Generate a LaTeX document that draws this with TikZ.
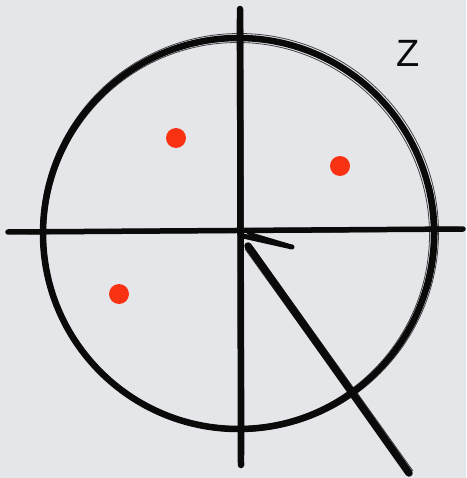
\documentclass[tikz,border=0pt]{standalone}
\usepackage{fontspec}
\setmainfont{Liberation Sans}
\usetikzlibrary{calc}
\definecolor{bg}{RGB}{228,230,234}
\definecolor{dotred}{RGB}{250,50,20}
\definecolor{ink}{RGB}{10,10,10}
\begin{document}
\begin{tikzpicture}[x=1pt,y=-1pt,
  brush/.style={draw=ink,line cap=round},
  hair/.style={draw=ink,line width=0.8pt,opacity=0.75},
  reddot/.style={circle,fill=dotred,minimum size=20pt,inner sep=0pt}]
\fill[bg] (0,0) rectangle (466,478);
\useasboundingbox (0,0) rectangle (466,478);
% named points
\coordinate (c) at (238.5,233.5);
\coordinate (vt) at (240,9);
\coordinate (vb) at (241,465);
\coordinate (hl) at (8,232);
\coordinate (hr) at (463,229);
\coordinate (dstart) at (248,246);
\coordinate (dend) at (409,473);
\coordinate (tstart) at (243,236);
\coordinate (tend) at (292,247);
% circle
\draw[brush,line width=6.5pt] (c) circle[radius=195.5];
\draw[hair] ($(c)+(1,-1)$) circle[radius=199];
\draw[hair] ($(c)+(-1,1)$) circle[radius=192];
\draw[brush,line width=4pt] ($(c)+(-14:197)$) arc[start angle=-14,end angle=16,radius=197];
\draw[brush,line width=3pt] ($(c)+(200:194)$) arc[start angle=200,end angle=240,radius=194];
% vertical line
\draw[brush,line width=6.5pt] (vt) -- (vb);
\draw[hair] ($(vt)+(-3,10)$) -- ($(vb)+(-2,-5)$);
\draw[hair] ($(vt)+(3,20)$) -- ($(vb)+(3,-10)$);
% horizontal line
\draw[brush,line width=5.5pt] (hl) -- (hr);
\draw[hair] ($(hl)+(10,-2)$) -- ($(hr)+(-5,-2)$);
\draw[hair] ($(hl)+(20,2)$) -- ($(hr)+(-10,2)$);
\draw[brush,line width=3pt] ($(hl)!0.6!(hr)+(0,1)$) -- ($(hr)+(-12,1)$);
% tick and diagonal
\draw[brush,line width=5pt] (tstart) -- (tend);
\draw[brush,line width=3pt] ($(tstart)+(5,-3)$) -- ($(tend)+(-4,-2)$);
\draw[brush,line width=7.5pt] (dstart) -- (dend);
\draw[hair] ($(dstart)+(4,0)$) -- ($(dend)+(4,-2)$);
\draw[hair] ($(dstart)+(-3,3)$) -- ($(dend)+(-4,-2)$);
% red dots
\node[reddot] (d1) at (176,138) {};
\node[reddot] (d2) at (340,166) {};
\node[reddot] (d3) at (119,294) {};
% label
\node[font=\fontsize{38}{40}\selectfont,text=ink,inner sep=0pt] (z) at (408,53) {Z};
\end{tikzpicture}
\end{document}
